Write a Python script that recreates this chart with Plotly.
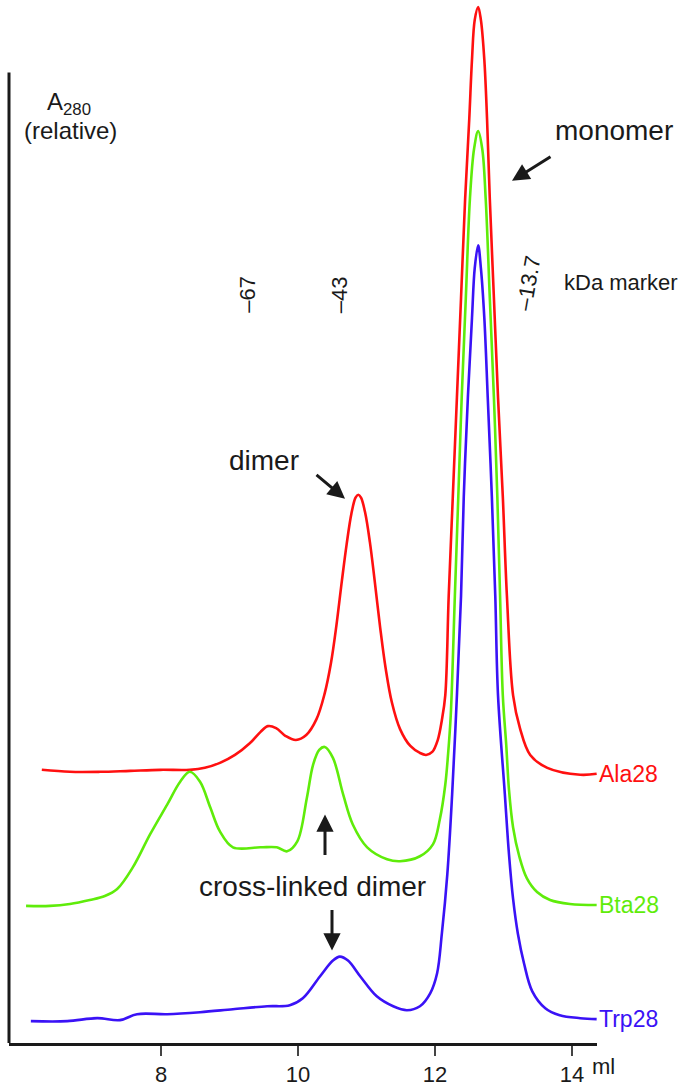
import plotly.graph_objects as go

# ---------------- data (elution volume in ml, relative A280) ----------------
ala28_ml = [6.26, 6.67, 7.11, 7.55, 7.99, 8.42, 8.64, 8.86, 9.08, 9.30, 9.45, 9.56, 9.68, 9.82,
            9.97, 10.12, 10.27, 10.39, 10.48, 10.56, 10.64, 10.71, 10.78, 10.84, 10.88, 10.92,
            10.98, 11.05, 11.12, 11.20, 11.28, 11.37, 11.49, 11.64, 11.78, 11.87, 11.96, 12.04,
            12.10, 12.15, 12.20, 12.26, 12.32, 12.38, 12.44, 12.50, 12.54, 12.58, 12.63, 12.67,
            12.72, 12.76, 12.80, 12.86, 12.92, 12.99, 13.05, 13.14, 13.24, 13.39, 13.64, 14.12,
            14.36]
ala28_a = [27.5, 27.3, 27.3, 27.4, 27.5, 27.5, 27.7, 28.2, 29.0, 30.2, 31.3, 31.9, 31.7, 30.9,
           30.5, 31.0, 32.6, 35.2, 38.2, 42.0, 46.5, 50.2, 53.3, 54.9, 55.2, 54.9,
           53.4, 50.4, 46.5, 41.8, 37.7, 34.3, 31.6, 29.9, 29.2, 29.0, 29.3, 30.5,
           32.5, 35.0, 45.0, 55.0, 65.0, 75.0, 85.0, 93.0, 99.0, 103.0, 104.3, 103.0,
           99.0, 93.0, 85.0, 75.0, 65.0, 55.0, 45.0, 35.0, 31.7, 29.0, 27.7, 27.0,
           27.1]

bta28_ml = [6.03, 6.38, 6.67, 6.96, 7.18, 7.36, 7.59, 7.84, 8.09, 8.28, 8.42, 8.57, 8.72, 8.86,
            9.05, 9.45, 9.69, 9.84, 9.99, 10.13, 10.22, 10.31, 10.39, 10.51, 10.66, 10.80,
            11.01, 11.30, 11.49, 11.78, 11.97, 12.07, 12.15, 12.19, 12.23, 12.29, 12.34, 12.39,
            12.45, 12.51, 12.57, 12.63, 12.69, 12.74, 12.80, 12.86, 12.91, 12.95, 12.99, 13.04,
            13.08, 13.14, 13.23, 13.34, 13.49, 13.68, 13.97, 14.36]
bta28_a = [13.8, 13.8, 14.0, 14.4, 14.8, 15.5, 17.7, 21.0, 24.0, 26.3, 27.3, 26.3, 23.7, 21.3,
           19.7, 19.7, 19.7, 19.3, 20.3, 24.7, 28.0, 29.5, 29.8, 28.7, 25.0, 22.0,
           19.7, 18.5, 18.3, 18.8, 20.0, 22.5, 26.0, 29.0, 33.0, 45.0, 55.0, 65.0,
           75.0, 85.0, 90.0, 91.8, 90.0, 85.0, 75.0, 65.0, 55.0, 45.0, 35.0, 30.0,
           25.5, 21.7, 18.8, 16.6, 15.2, 14.4, 14.0, 13.9]

trp28_ml = [6.10, 6.63, 7.07, 7.40, 7.65, 8.09, 8.57, 9.05, 9.55, 9.88, 10.07, 10.32, 10.51,
            10.61, 10.73, 10.91, 11.15, 11.39, 11.59, 11.78, 11.93, 12.03, 12.10, 12.18, 12.25,
            12.32, 12.38, 12.42, 12.48, 12.54, 12.58, 12.63, 12.67, 12.72, 12.77, 12.83, 12.88,
            12.92, 13.02, 13.08, 13.14, 13.21, 13.30, 13.42, 13.61, 13.82, 14.12, 14.36]
trp28_a = [2.2, 2.2, 2.5, 2.3, 2.9, 2.9, 3.1, 3.4, 3.7, 3.8, 4.5, 6.7, 8.3,
           8.7, 8.3, 6.7, 4.7, 3.7, 3.3, 3.7, 5.0, 7.0, 11.0, 17.0, 25.0,
           35.0, 45.0, 55.0, 65.0, 73.0, 78.0, 80.3, 78.0, 73.0, 65.0, 55.0, 45.0,
           35.0, 25.0, 19.0, 14.5, 11.0, 8.0, 5.2, 3.5, 2.8, 2.5, 2.4]

series_names = ["Ala28", "Bta28", "Trp28"]
series_colors = ["#ff1010", "#5fec0a", "#3a12f6"]

x_ticks = [8, 10, 12, 14]
x_tick_labels = ["8", "10", "12", "14"]

marker_kda = ["67", "43", "13.7"]
marker_ml = [9.26, 10.61, 13.36]

# ---------------- layout helpers ----------------
W, H = 694, 1087
ML, MR, MT, MB = 9, 97, 0, 37
PW, PH = W - ML - MR, H - MT - MB
X0, X1 = 5.781, 14.365
Y0, Y1 = 0, 105
FONT = "Liberation Sans, Arial, sans-serif"
INK = "#1a1a1a"


def px_x(px):
    return (px - ML) / PW


def px_y(py):
    return (H - MB - py) / PH


fig = go.Figure()
for xs, ys, name, col in zip([ala28_ml, bta28_ml, trp28_ml],
                             [ala28_a, bta28_a, trp28_a],
                             series_names, series_colors):
    fig.add_trace(go.Scatter(x=xs, y=ys, mode="lines", name=name,
                             line=dict(color=col, width=2.6, shape="spline", smoothing=1.0),
                             showlegend=False, hoverinfo="skip"))

annotations = []


def label(px, py, text, size, xanchor="center", **kw):
    annotations.append(dict(x=px_x(px), y=px_y(py), xref="paper", yref="paper",
                            text=text, showarrow=False, xanchor=xanchor, yanchor="middle",
                            font=dict(family=FONT, size=size, color=INK), **kw))


# series labels at right end
for xs, ys, name, col in zip([ala28_ml, bta28_ml, trp28_ml],
                             [ala28_a, bta28_a, trp28_a],
                             series_names, series_colors):
    annotations.append(dict(x=xs[-1], y=ys[-1], xref="x", yref="y", text=name,
                            showarrow=False, xanchor="left", yanchor="middle", xshift=0,
                            font=dict(family=FONT, size=23, color=col)))

# y-axis title
label(69, 104, "A<sub>280</sub>", 24)
label(70, 131, "(relative)", 24)

# kDa markers
angles = [-90, -90, -80]
for lab, ml, ang in zip(marker_kda, marker_ml, angles):
    annotations.append(dict(x=ml, y=px_y(317), xref="x", yref="paper",
                            text="\u2013" + lab, showarrow=False, textangle=ang,
                            xanchor="center", yanchor="bottom",
                            font=dict(family=FONT, size=22, color=INK)))
label(562, 284, "kDa marker", 22, xanchor="left")

# x unit
label(590, 1074, "ml", 22, xanchor="left")

# text labels
label(553, 131, "monomer", 28, xanchor="left")
label(264, 464, "dimer", 28)
label(312, 892, "cross-linked dimer", 28)

# arrows (head position, tail offset in px)
arrows = [((512, 182), (40, -25)), ((345, 502), (-30, -25)),
          ((325, 820), (0, 42)), ((332, 957), (0, -42))]
for (hx, hy), (ax, ay) in arrows:
    annotations.append(dict(x=px_x(hx), y=px_y(hy), xref="paper", yref="paper",
                            text="", showarrow=True, ax=ax, ay=ay,
                            arrowhead=2, arrowsize=1.15, arrowwidth=3, arrowcolor=INK))

fig.update_layout(
    width=W, height=H,
    margin=dict(l=ML, r=MR, t=MT, b=MB),
    paper_bgcolor="white", plot_bgcolor="white",
    xaxis=dict(range=[X0, X1], showgrid=False, zeroline=False,
               showline=True, linecolor=INK, linewidth=3,
               ticks="outside", ticklen=10, tickwidth=2, tickcolor="#444",
               tickvals=x_ticks, ticktext=x_tick_labels,
               tickfont=dict(family=FONT, size=22, color=INK)),
    yaxis=dict(range=[Y0, Y1], visible=False),
    annotations=annotations,
    shapes=[dict(type="line", xref="paper", yref="paper",
                 x0=0, x1=0, y0=0, y1=px_y(73),
                 line=dict(color=INK, width=3))],
)

fig.write_html("out.html")
